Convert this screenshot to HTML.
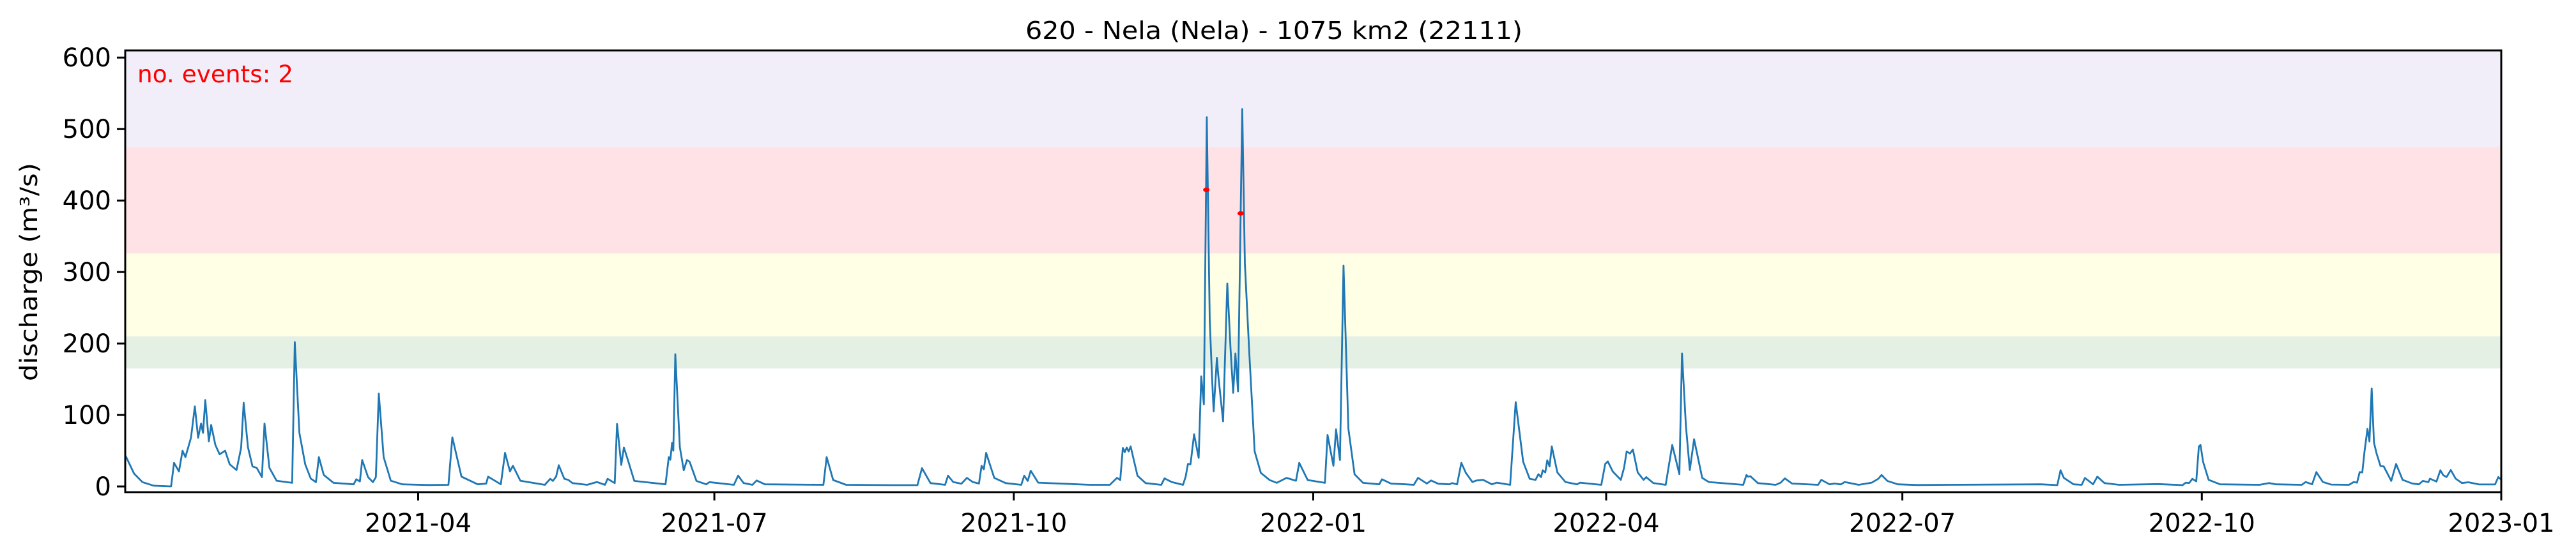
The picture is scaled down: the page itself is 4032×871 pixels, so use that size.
<!DOCTYPE html>
<html>
<head>
<meta charset="utf-8">
<style>
  html, body { margin: 0; padding: 0; background: #fff; }
  svg { display: block; font-family: "DejaVu Sans", "Liberation Sans", sans-serif; }
</style>
</head>
<body>
<svg id="chart" width="4032" height="871" viewBox="0 0 4032 871" xmlns="http://www.w3.org/2000/svg">
  <g id="bands"></g>
  <g id="series"></g>
  <g id="events"></g>
  <g id="axes"></g>
  <text x="1605" y="61" font-size="38" textLength="778" lengthAdjust="spacingAndGlyphs">620 - Nela (Nela) - 1075 km2 (22111)</text>
  <text x="215" y="129" font-size="37" fill="#ff0000" textLength="244" lengthAdjust="spacingAndGlyphs">no. events: 2</text>
  <text x="0" y="0" font-size="37" text-anchor="middle" textLength="342" lengthAdjust="spacingAndGlyphs" transform="translate(58,426) rotate(-90)">discharge (m³/s)</text>
</svg>
<script>
// ---- data ----
const days = [0.1,2.7,5.3,8.8,14.1,15,16.5,17.6,18.5,20.2,21.4,22.4,23.3,23.9,24.6,25.7,26.4,27.7,29,30.7,32.1,34.2,35.6,36.4,37.7,39.1,40.4,42,42.8,44.3,46.5,51.3,52.1,53.5,55.3,57,58.6,59.5,61,64,70.2,71,72.1,72.8,74.6,76.1,77,77.9,79.4,81.6,85.1,93,99.3,100.5,103.3,108.3,110.9,111.5,115.4,116.7,118.2,119.1,121.4,128.9,130.6,131.4,132.4,133.2,134.9,136.1,137.4,141.9,144.9,147.4,148.2,150.4,151.1,152.4,153.2,154.4,156.4,166,167,167.5,168,168.4,169,170.4,171.6,172.6,173.4,175.5,178.5,179.5,187,188.3,190,192.7,194,196.5,214.5,215.5,217.5,221.5,236.4,243.4,244.8,247.4,251.9,252.8,254.4,256.9,258.6,260.4,262.3,263.1,263.8,264.5,267,270.5,275.3,276.2,277.3,278.2,280.5,296.5,302.5,304.7,305.7,306.5,307.1,307.7,308.3,308.9,311,313.5,318.3,319.3,321.5,325,325.8,326.5,327.3,328.4,329.8,330.6,331.4,332.3,333.2,333.9,334.4,335.4,335.8,337.3,338.6,339.6,340.4,341.1,341.9,342.7,343.2,344,345.3,347,348.9,351.6,353.8,356.8,359.7,360.7,363.3,368.6,369.4,371.2,372,373.2,374.3,375.8,377.7,380.3,385.3,386.1,388.9,393.4,395.9,397.2,399.9,401.2,403.4,406.9,407.6,409.2,410.5,411.9,413.9,415.2,417.2,419.9,421.4,425.5,427.2,429.5,431.5,433.3,434.2,435,435.5,436.3,436.9,437.6,438.3,440,442.5,446,447,449.5,453.5,454.7,455.5,457,459.5,460.5,461.3,462.3,463.2,464.7,466.5,467.3,469.5,473.3,475.3,477.5,478.3,479.5,480.7,482,484.5,486.5,497.1,498.1,498.6,499.3,501.6,507.1,508.6,509.9,512.1,520.1,521.1,523.6,525.1,527.1,528.3,532.6,536.6,538.6,539.6,541.4,544.6,550.5,588.6,593.6,594.6,595.6,598.6,601.1,602.1,604.6,605.9,608.1,612.6,624.6,632.1,633.1,634.1,635.1,636.3,637.1,637.6,638.4,640.1,643.6,655.7,658.7,660.7,668.7,669.9,671.9,673.2,675.2,677.7,683.2,684.7,685.7,686.5,687.3,688,688.9,689.5,690.2,690.9,691.7,692.9,693.9,696.2,697.7,699.7,702.7,704.7,705.9,707.6,708.1,710.1,711.3,712.2,713.2,714.5,716,717.9,719.9,723.2,728.1,729.1,729.9];
const discharge = [43,18,6,1,0,33,21,50,41,68,112,68,88,75,121,63,86,58,45,50,31,23,54,117,55,28,26,13,88,26,8,5,202,75,31,11,6,41,16,5,3,10,7,37,13,6,13,130,41,8,3,2,2.3,68.7,13.7,3,4,13.7,3,47,21,29,8,2.3,10.7,7.7,14,29.7,10.7,9.2,4.7,2.3,6.2,2.3,10.7,4.7,87.5,30,54.5,37.5,7.7,3,41,37.5,61,50,185,55,22.6,37,34.5,7.7,3,6,2.3,15,4.7,2.3,8.3,3,2.3,41,9,2.3,1.8,1.8,25.6,4.7,2.3,15,6.2,3.8,12,6.2,4.1,29,24,47,12,4.7,2.3,15,7.7,22,5.3,2.3,2.3,12,9,54,48,54.5,49,56,15,4.7,2.3,11.3,6.2,2.3,13.7,31.5,31,73,40,154,115,516.5,232,153,105,180,157,91,284,192,131,186,133,382,528,312,192,49,19,9,5,12,8,33,9,5,72,29,80,37,309,81,17,5,3,10,4,3,2.3,12,4.1,8.3,3.8,3,4.7,3,33,19,6.2,8.3,9.2,3,5.3,2.3,118,34.5,10.7,9.2,17.2,13,22.6,19.6,36.6,28,56,19.6,6.2,3,5.3,4.1,2.3,31.5,35,21,9.2,26,49,46,51.7,19.6,9.2,13,4.7,2.3,58,17.2,186,85,23,66,12,6.2,2.3,16,13.7,14.3,4.7,2.3,5.3,11.3,4.1,2.3,9.2,3,4.1,2.9,6.2,2.3,5.3,10.7,16,7.7,3,2,3,1.8,22.6,12,3,2.3,11.9,3,13.7,4.7,2.3,3.3,1.8,5.3,4.7,10.7,7.1,56,58,34.5,9.2,3,2.3,4.7,3,2.3,6.2,3,20,6.2,2.6,2.3,6.2,5.3,20,19.6,49,80.6,62.8,137,61.3,46,28.5,28,7.7,31.5,9.2,4.1,3,7.7,6,10.8,6.8,22.6,15.7,13.2,23,10.8,4.8,5.8,2.8,2.8,13.2,9.8];
const eventDays = [332.15, 342.7];
const eventValues = [415, 382];
const bandLower = [165, 210, 326, 475];
const bandUpper = [210, 326, 475, 610];
const bandNames = ['band-green', 'band-yellow', 'band-red', 'band-purple'];
const bandFills = ['#e5f0e5', '#ffffe5', '#ffe2e5', '#f1eef9'];
const yTicks = [0, 100, 200, 300, 400, 500, 600];
const xTickDays = [90, 181, 273, 365, 455, 546, 638, 730];
const xTickLabels = ['2021-04','2021-07','2021-10','2022-01','2022-04','2022-07','2022-10','2023-01'];

// ---- scales ----
const L = 196, R = 3915, T = 79, B = 771;
const xMin = 0, xMax = 730, yMin = -8, yMax = 610;
const xs = d => L + (d - xMin) / (xMax - xMin) * (R - L);
const ys = v => B - (v - yMin) / (yMax - yMin) * (B - T);
const NS = 'http://www.w3.org/2000/svg';
function mk(tag, attrs, parent) {
  const e = document.createElementNS(NS, tag);
  for (const k in attrs) e.setAttribute(k, attrs[k]);
  parent.appendChild(e);
  return e;
}

// bands
const gB = document.getElementById('bands');
for (let i = 0; i < bandLower.length; i++) {
  const r = mk('rect', {x: L, y: ys(bandUpper[i]), width: R - L, height: ys(bandLower[i]) - ys(bandUpper[i]), fill: bandFills[i]}, gB);
  
  
}

// series
const gS = document.getElementById('series');
const pts = days.map((d, i) => xs(d).toFixed(1) + ',' + ys(discharge[i]).toFixed(1)).join(' ');
const line = mk('polyline', {points: pts, fill: 'none', stroke: '#1f77b4', 'stroke-width': 2.8, 'stroke-linejoin': 'round'}, gS);



// events
const gE = document.getElementById('events');
for (let i = 0; i < eventDays.length; i++) {
  const c = mk('ellipse', {cx: xs(eventDays[i]), cy: ys(eventValues[i]), rx: 5, ry: 3.5, fill: '#ff0000'}, gE);
  
  
}

// axes
const gA = document.getElementById('axes');
const frame = mk('rect', {x: L, y: T, width: R - L, height: B - T, fill: 'none', stroke: '#000', 'stroke-width': 3}, gA);


yTicks.forEach(v => {
  const t = mk('line', {x1: L - 13, x2: L, y1: ys(v), y2: ys(v), stroke: '#000', 'stroke-width': 3}, gA);
  
  
  const lb = mk('text', {x: L - 22, y: ys(v) + 14, 'text-anchor': 'end', 'font-size': 40}, gA);
  lb.textContent = String(v);
  
  
});
xTickDays.forEach((d, i) => {
  const t = mk('line', {x1: xs(d), x2: xs(d), y1: B, y2: B + 13, stroke: '#000', 'stroke-width': 3}, gA);
  
  
  const lb = mk('text', {x: xs(d), y: 833, 'text-anchor': 'middle', 'font-size': 40}, gA);
  lb.textContent = xTickLabels[i];
  
  
});
</script>
</body>
</html>
